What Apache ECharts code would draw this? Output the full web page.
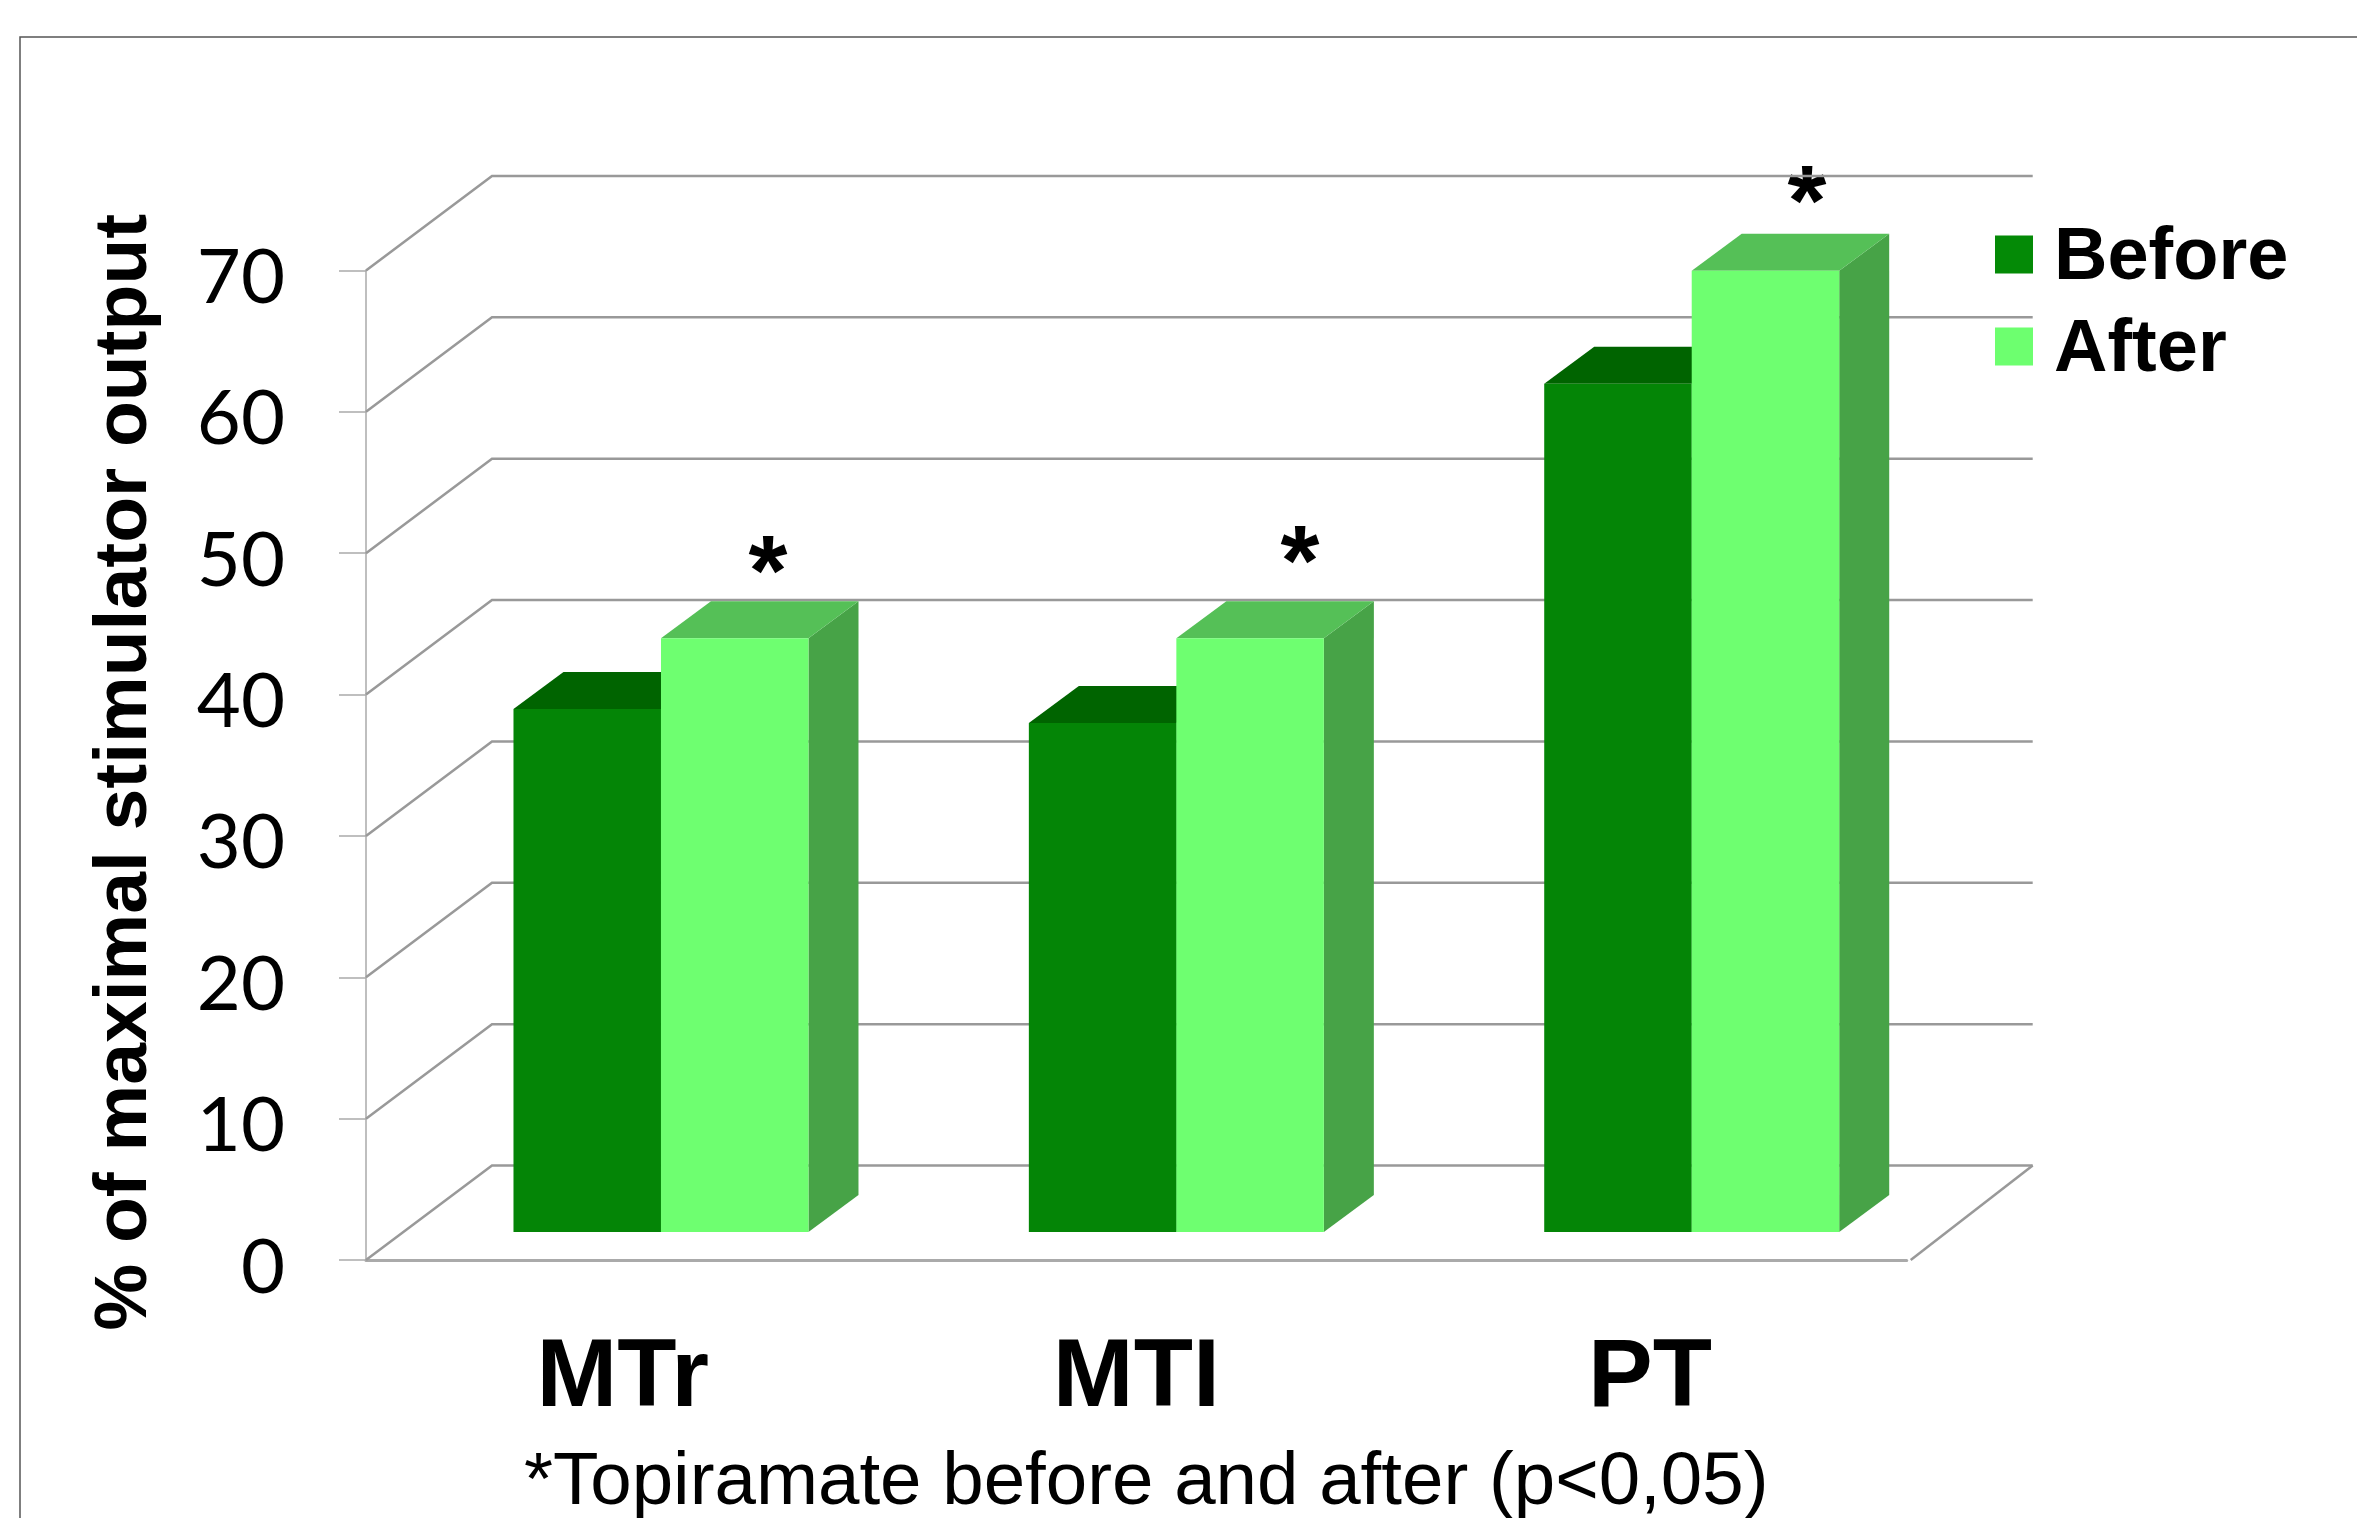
<!DOCTYPE html>
<html>
<head>
<meta charset="utf-8">
<style>html,body{margin:0;padding:0;background:#fff}#chart{width:2357px;height:1518px}</style>
<script src="https://cdn.jsdelivr.net/npm/echarts@6/dist/echarts.min.js"></script>
</head>
<body>
<div id="chart"></div>
<script>
var categories=['MTr','MTI','PT'];
var before=[37,36,60];
var after=[42,42,68];
var yTicks=[0,10,20,30,40,50,60,70];

// pseudo 3d offsets, in pixels
var wallDx=126,wallDy=94.5;
var barBaseUp=28,barShift=40,barSpread=1.8,barW=147.5,sideDx=50,sideDy=37;
var gridCol='#999999';

function wallItem(params,api){
	var v=api.value(0);
	var sys=params.coordSys;
	var y=api.coord([0,v])[1];
	var x0=sys.x,x1=sys.x+sys.width;
	var kids=[{
		type:'polyline',
		shape:{points:[[x0,y],[x0+wallDx,y-wallDy],[x1+wallDx,y-wallDy]]},
		style:{fill:null,stroke:gridCol,lineWidth:2.5}
	}];
	if(v===0){
		kids.push({
			type:'line',
			shape:{x1:x1+4,y1:y,x2:x1+wallDx,y2:y-wallDy},
			style:{stroke:gridCol,lineWidth:2.5}
		});
	}
	return {type:'group',children:kids};
}

function barItem(slot,cols){
	return function(params,api){
		var idx=api.value(0);
		var top=api.coord([idx,api.value(1)]);
		var base=api.coord([idx,0]);
		var l=top[0]+barShift+(idx-1)*barSpread+slot*barW,r=l+barW;
		var t=top[1]-barBaseUp,b=base[1]-barBaseUp;
		return {type:'group',children:[
			{type:'polygon',shape:{points:[[r,t],[r+sideDx,t-sideDy],[r+sideDx,b-sideDy],[r,b]]},style:{fill:cols.side}},
			{type:'polygon',shape:{points:[[l,t],[l+sideDx,t-sideDy],[r+sideDx,t-sideDy],[r,t]]},style:{fill:cols.top}},
			{type:'rect',shape:{x:l,y:t,width:barW,height:b-t},style:{fill:cols.front}}
		]};
	};
}

function pairs(arr){
	return arr.map(function(v,i){return [i,v];});
}

var starStyle={text:'*',fontFamily:'Liberation Sans',fontWeight:'bold',fontSize:100,fill:'#000',textAlign:'center',textVerticalAlign:'middle'};

var chart=echarts.init(document.getElementById('chart'));
var option={
	backgroundColor:'#fff',
	animation:false,
	grid:{left:366,top:270.4,width:1540.7,height:989.6,containLabel:false},
	legend:{
		data:[{name:'Before',icon:'rect'},{name:'After',icon:'rect'}],
		orient:'vertical',
		left:1995,
		top:222,
		padding:0,
		itemWidth:38,
		itemHeight:38,
		itemGap:18,
		formatter:'{t|{name}}',
		textStyle:{rich:{t:{fontFamily:'Liberation Sans',fontWeight:'bold',fontSize:74,color:'#000',padding:[9,0,0,16]}}}
	},
	xAxis:{
		type:'category',
		data:categories,
		axisLine:{lineStyle:{color:'#aaaaaa',width:3}},
		axisTick:{length:29,alignWithLabel:false,lineStyle:{color:'#aaaaaa',width:1.5}},
		axisLabel:{margin:71,fontFamily:'Liberation Sans',fontWeight:'bold',fontSize:97,color:'#000'}
	},
	yAxis:{
		type:'value',
		min:0,
		max:70,
		interval:10,
		name:'% of maximal stimulator output',
		nameLocation:'middle',
		nameRotate:90,
		nameGap:203,
		nameTextStyle:{fontFamily:'Liberation Sans',fontWeight:'bold',fontSize:75,color:'#000',padding:[0,14,0,0]},
		splitLine:{show:false},
		axisLine:{show:true,lineStyle:{color:'#aaaaaa',width:1.5}},
		axisTick:{show:true,length:27,lineStyle:{color:'#aaaaaa',width:1.5}},
		axisLabel:{
			margin:81,
			formatter:'{t|{value}}',
			rich:{t:{fontFamily:'Lato',fontSize:76,color:'#000',padding:[16,0,0,0]}}
		}
	},
	graphic:[
		{type:'polyline',shape:{points:[[20,1518],[20,37],[2357,37]]},style:{fill:null,stroke:'#555',lineWidth:1.5}},
		{type:'text',x:768,y:577,style:starStyle},
		{type:'text',x:1300,y:567,style:starStyle},
		{type:'text',x:1807,y:207,style:starStyle},
		{type:'text',x:524,y:1483,style:{text:'*Topiramate before and after (p<0,05)',fontFamily:'Liberation Sans',fontSize:74.5,fill:'#000',textAlign:'left',textVerticalAlign:'middle'}}
	],
	series:[
		{
			type:'custom',
			coordinateSystem:'cartesian2d',
			clip:false,
			silent:true,
			renderItem:wallItem,
			encode:{y:0},
			data:yTicks.map(function(v){return [v];})
		},
		{
			name:'Before',
			type:'custom',
			coordinateSystem:'cartesian2d',
			clip:false,
			itemStyle:{color:'#048a06'},
			renderItem:barItem(-1,{front:'#048506',top:'#006400',side:'#006400'}),
			encode:{x:0,y:1},
			data:pairs(before)
		},
		{
			name:'After',
			type:'custom',
			coordinateSystem:'cartesian2d',
			clip:false,
			itemStyle:{color:'#6dff6f'},
			renderItem:barItem(0,{front:'#6eff70',top:'#55c057',side:'#47a347'}),
			encode:{x:0,y:1},
			data:pairs(after)
		}
	]
};
chart.setOption(option);
</script>
</body>
</html>
